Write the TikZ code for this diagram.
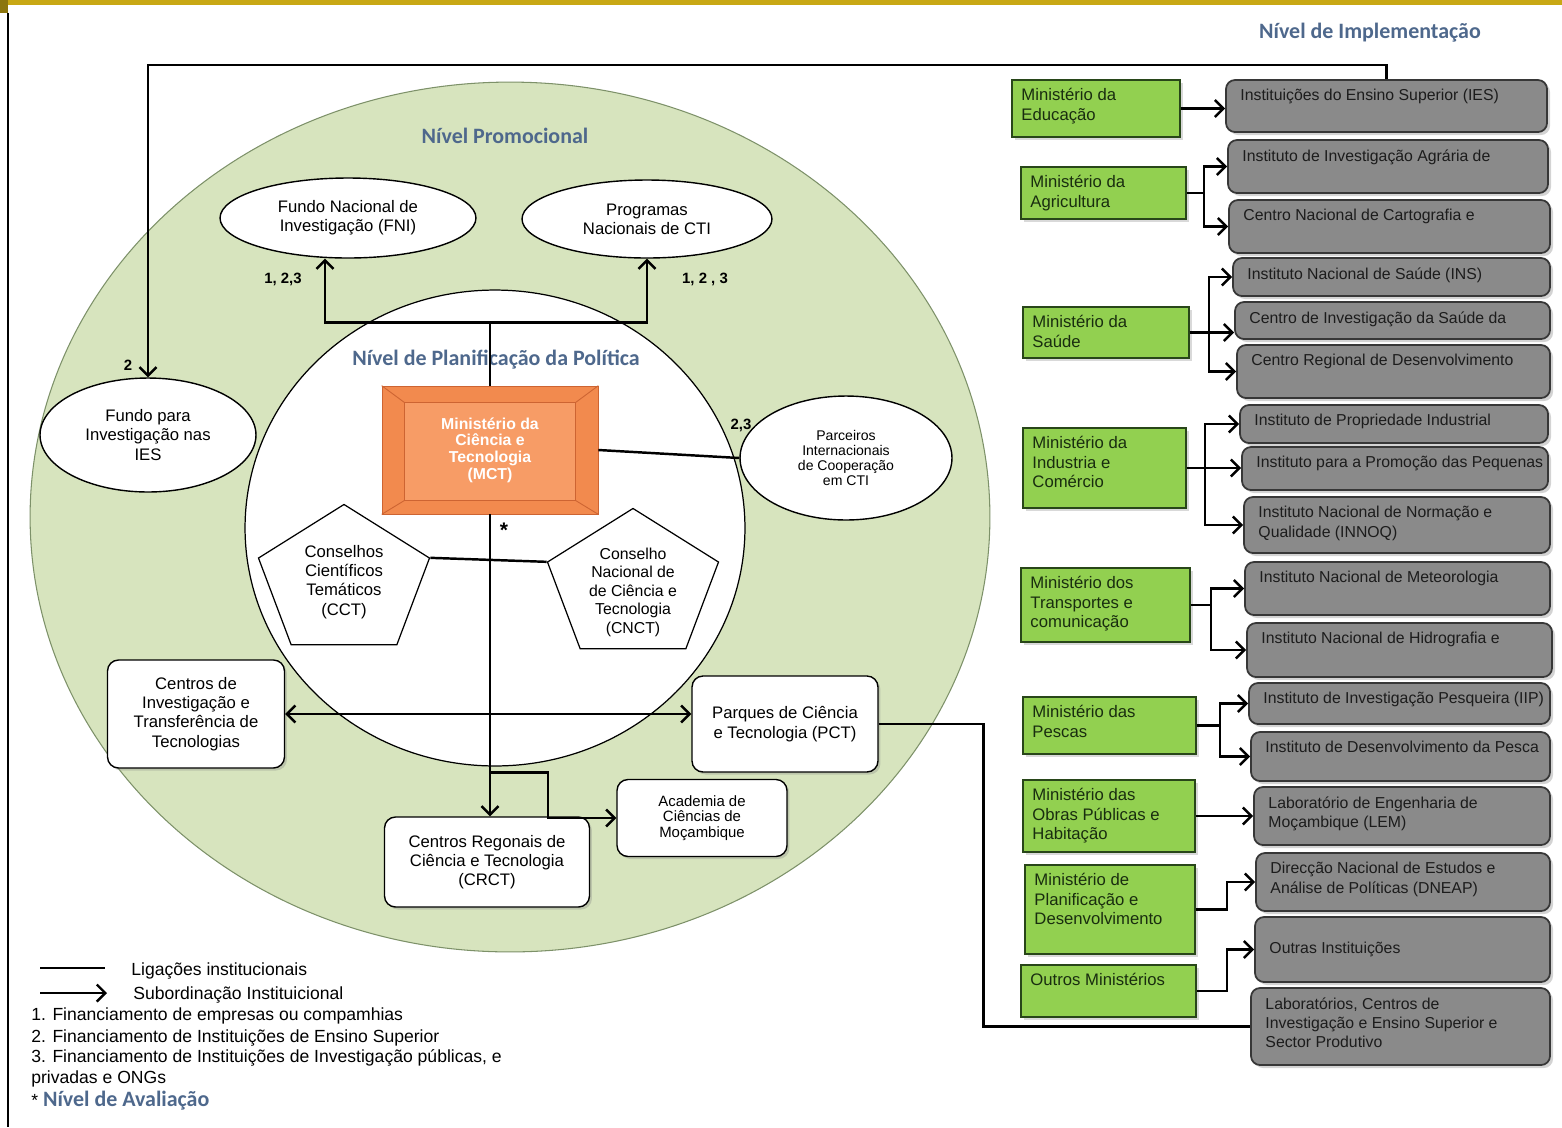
\documentclass[tikz,border=0pt]{standalone}
\usepackage{fontspec}
\setmainfont{Liberation Sans}
\newfontfamily\titlefont{Carlito}
\usetikzlibrary{shapes.geometric}
\usetikzlibrary{arrows.meta}
\usetikzlibrary{shadows}
\usetikzlibrary{calc}

\definecolor{bandgold}{RGB}{200,168,20}
\definecolor{promgreen}{RGB}{215,228,190}
\definecolor{promedge}{RGB}{125,145,105}
\definecolor{titleblue}{RGB}{78,104,140}
\definecolor{mctorange}{RGB}{242,138,78}
\definecolor{mctinner}{RGB}{247,156,102}
\definecolor{mctedge}{RGB}{205,100,50}
\definecolor{mingreen}{RGB}{146,208,80}
\definecolor{minedge}{RGB}{40,70,25}
\definecolor{minink}{RGB}{25,45,15}
\definecolor{instgray}{RGB}{138,138,138}
\definecolor{instedge}{RGB}{55,55,55}
\definecolor{instink}{RGB}{28,28,28}

\newcommand{\instnode}[6] % name, x1, y1, x2, y2 in px, text
{
	% grey box
	\node[instbox, minimum width={(#4-#2)*0.02cm}, minimum height={(#5-#3)*0.02cm}] (#1) at ({(#2+#4)/2},{(#3+#5)/2}) {};
	% text in the upper left corner
	\node[insttext] (#1-txt) at ([xshift=0.3cm,yshift=-0.2cm]#1.north west) {#6};
}
\newcommand{\minnode}[6] % name, x1, y1, x2, y2 in px, text
{
	% green box
	\node[minbox, minimum width={(#4-#2)*0.02cm}, minimum height={(#5-#3)*0.02cm}] (#1) at ({(#2+#4)/2},{(#3+#5)/2}) {};
	% text in the upper left corner
	\node[mintext] (#1-txt) at ([xshift=0.2cm,yshift=-0.18cm]#1.north west) {#6};
}

\begin{document}
\begin{tikzpicture}[x=0.02cm, y=-0.02cm,
	every node/.style={font=\fontsize{9.5}{11}\selectfont, align=center, inner sep=0},
	title/.style={font=\titlefont\bfseries\fontsize{12.5}{14}\selectfont, text=titleblue},
	conn/.style={line width=1.4pt},
	arr/.style={line width=1.4pt, -{Straight Barb[length=1.7mm,width=3.4mm]}},
	darr/.style={line width=1.4pt, {Straight Barb[length=1.7mm,width=3.4mm]}-{Straight Barb[length=1.7mm,width=3.4mm]}},
	ell/.style={ellipse, draw, fill=white, line width=0.8pt},
	rbox/.style={rectangle, rounded corners=0.22cm, draw, fill=white, line width=0.8pt,
		drop shadow={shadow xshift=0.05cm, shadow yshift=-0.05cm, opacity=0.3}},
	pent/.style={regular polygon, regular polygon sides=5, draw, fill=white, line width=0.7pt, minimum size=3.3cm, xscale=1.09, yscale=0.94},
	mct/.style={rectangle, fill=mctorange, draw=mctedge, minimum width=4.32cm, minimum height=2.56cm,
		text=white, font=\bfseries\fontsize{9}{9.5}\selectfont,
		path picture={\fill[mctinner] ([shift={(23,17)}]path picture bounding box.north west) rectangle ([shift={(-23,-14)}]path picture bounding box.south east);}},
	instbox/.style={rectangle, rounded corners=0.18cm, draw=instedge, fill=instgray, line width=1pt,
		drop shadow={shadow xshift=0.06cm, shadow yshift=-0.06cm, opacity=0.35}},
	insttext/.style={anchor=north west, align=left, text=instink, font=\fontsize{9}{11}\selectfont},
	minbox/.style={rectangle, draw=minedge, fill=mingreen, line width=1pt,
		drop shadow={shadow xshift=0.05cm, shadow yshift=-0.05cm, opacity=0.3}},
	mintext/.style={anchor=north west, align=left, text=minink, font=\fontsize{9.5}{11}\selectfont},
	numlab/.style={font=\bfseries\fontsize{8.5}{9}\selectfont},
	legtext/.style={anchor=west, align=left, font=\fontsize{10}{12}\selectfont}]
	\useasboundingbox (0,0) rectangle (1562,1127);
	% slide band and frame
	\fill[bandgold] (0,0) rectangle (1562,5);
	\fill[bandgold!70!black] (0,0) rectangle (8,13);
	\draw[line width=0.8pt] (8,13) -- (8,1127);
	
	% levels
	\node[ellipse, fill=promgreen, draw=promedge, line width=0.6pt, minimum width=19.2cm, minimum height=17.4cm] (promo) at (510,517) {};
	\node[ellipse, fill=white, draw, line width=0.7pt, minimum width=10cm, minimum height=9.52cm] (policy) at (495,528) {};
	\node[title] (tprom) at (505,136) {Nível Promocional};
	\node[title] (tplan) at (496,360) {Nível de Planificação da Política};
	\node[title] (timpl) at (1370,33) {Nível de Implementação};
	
	% funds and partners
	\node[ell, minimum width=5.12cm, minimum height=1.6cm] (fni) at (348,218) {Fundo Nacional de\\Investigação (FNI)};
	\node[ell, minimum width=5cm, minimum height=1.56cm] (pnc) at (647,219) {Programas\\Nacionais de CTI};
	\node[ell, minimum width=4.32cm, minimum height=2.28cm] (fip) at (148,435) {Fundo para\\Investigação nas\\IES};
	\node[ell, minimum width=4.24cm, minimum height=2.48cm, font=\fontsize{8}{8.6}\selectfont] (pic) at (846,458) {Parceiros\\Internacionais\\de Cooperação\\em CTI};
	
	% ministry
	\node[mct] (mct) at (490,450) {Ministério da\\Ciência e\\Tecnologia\\(MCT)};
	\draw[mctedge, line width=0.5pt] ([shift={(23,17)}]mct.north west) rectangle ([shift={(-23,-14)}]mct.south east);
	\foreach \c/\dx/\dy in {north west/23/17, north east/-23/17, south west/23/-14, south east/-23/-14}
		\draw[mctedge, line width=0.5pt] (mct.\c) -- ++(\dx,\dy);
	
	% councils
	\node[pent] (cct) at (344,582) {};
	\node (cct-txt) at (cct) {Conselhos\\Científicos\\Temáticos\\(CCT)};
	\node[pent] (cnct) at (633,586) {};
	\node[font=\fontsize{9}{10.5}\selectfont] (cnct-txt) at ([yshift=-0.12cm]cnct) {Conselho\\Nacional de\\de Ciência e\\Tecnologia\\(CNCT)};
	
	% centres
	\node[rbox, minimum width=3.54cm, minimum height=2.16cm] (cit) at (196,714) {Centros de\\Investigação e\\Transferência de\\Tecnologias};
	\node[rbox, minimum width=3.72cm, minimum height=1.92cm] (pct) at (785,724) {Parques de Ciência\\e Tecnologia (PCT)};
	\node[rbox, minimum width=3.4cm, minimum height=1.54cm, font=\fontsize{8.5}{8.8}\selectfont] (acm) at (702,818) {Academia de\\Ciências de\\Moçambique};
	\node[rbox, minimum width=4.1cm, minimum height=1.8cm] (crct) at (487,862) {Centros Regonais de\\Ciência e Tecnologia\\(CRCT)};
	
	% ministries
	\minnode{edu}{1012}{80}{1180}{137}{Ministério da\\Educação};
	\minnode{agr}{1021}{167}{1186}{219}{Ministério da\\Agricultura};
	\minnode{sau}{1023}{307}{1189}{358}{Ministério da\\Saúde};
	\minnode{ind}{1023}{428}{1186}{508}{Ministério da\\Industria e\\Comércio};
	\minnode{tra}{1021}{568}{1190}{642}{Ministério dos\\Transportes e\\comunicação};
	\minnode{pes}{1023}{697}{1196}{754}{Ministério das\\Pescas};
	\minnode{obr}{1023}{780}{1195}{852}{Ministério das\\Obras Públicas e\\Habitação};
	\minnode{pla}{1025}{865}{1195}{954}{Ministério de\\Planificação e\\Desenvolvimento};
	\minnode{out}{1021}{965}{1196}{1017}{Outros Ministérios};
	
	% institutions
	\instnode{ies}{1226}{80}{1547}{132}{Instituições do Ensino Superior (IES)};
	\instnode{iiam}{1228}{140}{1548}{193}{Instituto de Investigação Agrária de};
	\instnode{cart}{1229}{200}{1550}{253}{Centro Nacional de Cartografia e};
	\instnode{ins}{1233}{258}{1550}{296}{Instituto Nacional de Saúde (INS)};
	\instnode{cism}{1235}{302}{1550}{339}{Centro de Investigação da Saúde da};
	\instnode{crd}{1237}{345}{1550}{398}{Centro Regional de Desenvolvimento};
	\instnode{ipi}{1240}{405}{1548}{443}{Instituto de Propriedade Industrial};
	\instnode{ipeme}{1242}{447}{1548}{490}{Instituto para a Promoção das Pequenas};
	\instnode{innoq}{1244}{497}{1550}{553}{Instituto Nacional de Normação e\\Qualidade (INNOQ)};
	\instnode{inam}{1245}{562}{1550}{615}{Instituto Nacional de Meteorologia};
	\instnode{inahina}{1247}{623}{1552}{677}{Instituto Nacional de Hidrografia e};
	\instnode{iip}{1249}{683}{1550}{724}{Instituto de Investigação Pesqueira (IIP)};
	\instnode{idppe}{1251}{732}{1550}{781}{Instituto de Desenvolvimento da Pesca};
	\instnode{lem}{1254}{787}{1550}{845}{Laboratório de Engenharia de\\Moçambique (LEM)};
	\instnode{dneap}{1256}{853}{1550}{911}{Direcção Nacional de Estudos e\\Análise de Políticas (DNEAP)};
	\instnode{outr}{1255}{917}{1550}{982}{};
	\node[insttext, anchor=west] (outr-lab) at ([xshift=0.3cm]outr.west) {Outras Instituições};
	\instnode{lab}{1251}{988}{1550}{1065}{Laboratórios, Centros de\\Investigação e Ensino Superior e\\Sector Produtivo};
	
	% links inside the circles
	\coordinate (jt) at ($(mct.north)+(0,-63)$);
	\draw[conn] (mct.north) -- (jt);
	\draw[arr] (jt) -| ([xshift=-0.46cm]fni.south);
	\draw[arr] (jt) -| (pnc.south);
	\draw[conn] (mct.east) -- (pic.west);
	\draw[conn] (cct.corner 5) -- (cnct.corner 2);
	\draw[arr] (mct.south) -- (mct.south |- crct.north);
	\coordinate (br) at ($(mct.south)+(0,258)$);
	\draw[arr] (br) -- ++(58,0) |- (acm.west);
	\draw[darr] (cit.east) -- (cit.east -| pct.west);
	\draw[arr] (ies.north) -- ++(0,-14) -| (fip.north);
	\draw[conn] (pct.east) -- ++(105,0) |- (lab.west);
	
	% numbers
	\node[numlab] (n1) at (283,279) {1, 2,3};
	\node[numlab] (n2) at (705,279) {1, 2 , 3};
	\node[numlab] (n3) at (128,365) {2};
	\node[numlab] (n4) at (741,425) {2,3};
	\node[numlab, font=\bfseries\fontsize{12}{12}\selectfont] (ast) at (504,530) {*};
	
	% ministries to institutions
	\draw[arr] (edu.east) -- (edu.east -| ies.west);
	\foreach \t in {iiam,cart}
		\draw[arr] (agr.east) -- ++(17,0) |- (\t.west);
	\foreach \t in {ins,crd}
		\draw[arr] (sau.east) -- ++(19,0) |- (\t.west);
	\draw[arr] (sau.east) -- (sau.east -| cism.west);
	\foreach \t in {ipi,innoq}
		\draw[arr] (ind.east) -- ++(18,0) |- (\t.west);
	\draw[arr] (ind.east) -- (ind.east -| ipeme.west);
	\foreach \t in {inam,inahina}
		\draw[arr] (tra.east) -- ++(20,0) |- (\t.west);
	\foreach \t in {iip,idppe}
		\draw[arr] (pes.east) -- ++(23,0) |- (\t.west);
	\draw[arr] (obr.east) -- (obr.east -| lem.west);
	\draw[arr] (pla.east) -- ++(31,0) |- (dneap.west);
	\draw[arr] (out.east) -- ++(30,0) |- (outr.west);
	
	% legend
	\coordinate (la) at (40,968);
	\coordinate (lb) at (105,968);
	\coordinate (lc) at (40,993);
	\coordinate (ld) at (107,993);
	\draw[conn] (la) -- (lb);
	\draw[arr] (lc) -- (ld);
	\node[legtext] (leg1) at (131,971) {Ligações institucionais};
	\node[legtext] (leg2) at (133,995) {Subordinação Instituicional};
	\node[legtext] (leg3) at (31,1016) {1. Financiamento de empresas ou compamhias};
	\node[legtext] (leg4) at (31,1038) {2. Financiamento de Instituições de Ensino Superior};
	\node[legtext] (leg5) at (31,1058) {3. Financiamento de Instituições de Investigação públicas, e};
	\node[legtext] (leg6) at (31,1079) {privadas e ONGs};
	\node[legtext] (leg7) at (31,1101) {\fontsize{10}{12}\selectfont*\ \titlefont\bfseries\fontsize{12.5}{14}\selectfont\textcolor{titleblue}{Nível de Avaliação}};
\end{tikzpicture}
\end{document}
